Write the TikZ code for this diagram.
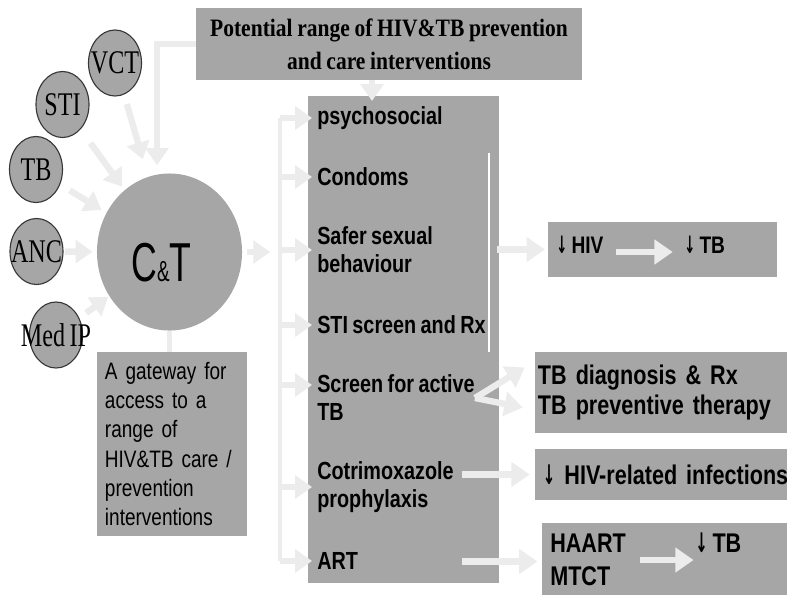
\documentclass[tikz,border=0pt]{standalone}
\usepackage{fontspec}
\usetikzlibrary{arrows.meta,shapes.geometric,positioning}
\newfontfamily\headserif[FakeStretch=0.86, WordSpace=0.86]{Liberation Serif}
\newfontfamily\roundserif[FakeStretch=0.73, WordSpace=0.73]{Liberation Serif}
\newfontfamily\narrowsans[FakeStretch=0.8, WordSpace=0.8]{Liberation Sans}
\newfontfamily\ctsans[FakeStretch=0.65]{Liberation Sans}
\newfontfamily\arrowfont[FakeStretch=0.55]{DejaVu Sans}
\newcommand{\dn}{{\arrowfont ↓}}
\definecolor{boxgrey}{RGB}{166,166,166}
\definecolor{pale}{RGB}{236,236,236}
\definecolor{rim}{RGB}{55,55,55}
\tikzset{
  box/.style={fill=boxgrey, inner sep=0pt},
  entry/.style={ellipse, fill=boxgrey, draw=rim, line width=0.8pt,
    minimum width=1.325cm, minimum height=1.65cm, inner sep=0pt,
    label={[font=\roundserif\fontsize{23.5pt}{26pt}\selectfont]center:#1}},
  feed/.style={pale, line width=4.5pt, -{Triangle[length=12pt,width=16pt]}},
  feedline/.style={pale, line width=3.5pt},
  glow/.style={pale, line width=4.5pt, -{Triangle[length=13pt,width=17pt]}},
  item/.style={anchor=west, inner sep=0pt, align=left,
    font=\narrowsans\bfseries\fontsize{17.6pt}{19.9pt}\selectfont},
  result/.style={font=\narrowsans\bfseries\fontsize{19.2pt}{21.3pt}\selectfont}
}
\begin{document}
\begin{tikzpicture}[x=0.025cm, y=-0.025cm]
    \clip (0,0) rectangle (787,594);
    \fill[white] (0,0) rectangle (787,594);
    % Entry points
    \node[entry=VCT] (vct) at (115,63) {};
    \node[entry=STI] (sti) at (62.5,104.5) {};
    \node[entry=TB] (tb) at (36,169.5) {};
    \node[entry=ANC] (anc) at (36.5,251.5) {};
    \node[entry=Med IP] (medip) at (56,335) {};
    % Counselling and testing
    \node[ellipse, fill=boxgrey, minimum width=3.625cm, minimum height=3.925cm, inner sep=0pt,
      label={[xshift=-0.2cm, yshift=-0.275cm]center:{\ctsans\fontsize{39pt}{40pt}\selectfont C{\fontsize{20.6pt}{22pt}\selectfont\&}T}}]
      (ct) at (169.5,252) {};
    \node[box, minimum width=9.65cm, minimum height=1.8cm, align=center,
      font=\headserif\bfseries\fontsize{17.8pt}{23.5pt}\selectfont]
      (range) at (389,44) {Potential range of HIV\&TB prevention\\and care interventions};
    \node[box, minimum width=3.75cm, minimum height=4.6cm, text width=3.35cm, inner xsep=0.2cm, align=left,
      font=\narrowsans\fontsize{16.9pt}{20.8pt}\selectfont]
      (gate) at (172,444) {A gateway for\\access to a\\range of\\HIV\&TB care /\\prevention\\interventions};
    % Interventions
    \node[box, minimum width=4.775cm, minimum height=12.175cm] (offer) at (403.5,339.5) {};
    \node[item] (psy) at (317,118) {psychosocial};
    \node[item] (cond) at (317,177) {Condoms};
    \node[item] (safer) at (317,250) {Safer sexual\\behaviour};
    \node[item] (stiscr) at (317,325) {STI screen and Rx};
    \node[item] (screen) at (317,398) {Screen for active\\TB};
    \node[item] (cotri) at (317,487) {Cotrimoxazole\\prophylaxis};
    \node[item] (art) at (317,561) {ART};
    % Outcomes
    \node[box, minimum width=5.725cm, minimum height=1.375cm] (hivbox) at (662.5,249.5) {};
    \node[anchor=west, inner sep=0pt, font=\narrowsans\bfseries\fontsize{17pt}{20pt}\selectfont] (hivdrop) at (556,245) {\dn\ HIV};
    \node[anchor=west, inner sep=0pt, font=\narrowsans\bfseries\fontsize{17pt}{20pt}\selectfont] (tbdrop) at (684,245) {\dn\ TB};
    \node[box, minimum width=6.625cm, minimum height=2.025cm, text width=6.475cm, inner xsep=0.075cm,
      align=left, result] (tbbox) at (667.5,392.5) {TB diagnosis \& Rx\\TB preventive therapy};
    \node[box, minimum width=6.625cm, minimum height=1.275cm, text width=6.225cm, inner xsep=0.2cm,
      align=left, result] (hivinf) at (667.5,474.5) {\dn\ HIV-related infections};
    \node[box, minimum width=6.45cm, minimum height=1.925cm] (haart) at (671,561.5) {};
    \node[anchor=west, inner sep=0pt, align=left,
      font=\narrowsans\bfseries\fontsize{19.2pt}{23.5pt}\selectfont] (drugs) at (550,560) {HAART\\MTCT};
    \node[anchor=west, inner sep=0pt, result] (tbfall) at (695,543) {\dn\ TB};
    % Connectors
    \coordinate (ctin) at (157,165);
    \coordinate (offin) at (372,101);
    \coordinate (brx) at (280,0);
    \coordinate (outx) at (462,0);
    \coordinate (bartop) at (489,153);
    \coordinate (barbot) at (489,352);
    \coordinate (scrin) at ([yshift=0.325cm]screen.west);
    \foreach \s/\a/\b in {vct/7/13, sti/12/3, tb/8/4, anc/1/3, medip/6/1}
      \draw[feed, shorten <=\a pt, shorten >=\b pt] (\s) -- (ct);
    \draw[feed] (range.west) -| (ctin);
    \draw[feed] (range.south -| offin) -- (offin);
    \draw[feedline] (ct.south) -- (ct.south |- gate.north);
    \draw[feed, shorten <=3.5pt, shorten >=7pt] (ct.east) -- (ct.east -| brx);
    \draw[feedline] (brx |- psy.west) -- (brx |- art.west);
    \foreach \n in {psy,cond,safer,stiscr,cotri,art}
      \draw[feed, shorten >=3.5pt] (brx |- \n.west) -- (\n.west);
    \draw[feed, shorten >=3.5pt] (brx |- scrin) -- (scrin);
    \draw[white, line width=2pt] (bartop) -- (barbot);
    \draw[glow, shorten <=6pt, shorten >=2pt] (bartop |- hivbox.west) -- (hivbox.west);
    \draw[glow, shorten <=8.5pt, shorten >=8pt] ([yshift=-0.175cm]hivdrop.east) -- ([yshift=-0.175cm]hivdrop.east -| tbdrop.west);
    \draw[glow] (screen.east) -- ([shift={(-10,-25)}]tbbox.west);
    \draw[glow] (screen.east) -- ([shift={(-12,15)}]tbbox.west);
    \draw[glow, shorten >=3.5pt] (outx |- hivinf.west) -- (hivinf.west);
    \draw[glow, shorten >=3pt] (outx |- haart.west) -- (haart.west);
    \draw[glow, shorten <=10pt, shorten >=1pt] (drugs.east) -- (drugs.east -| tbfall.west);
\end{tikzpicture}
\end{document}
